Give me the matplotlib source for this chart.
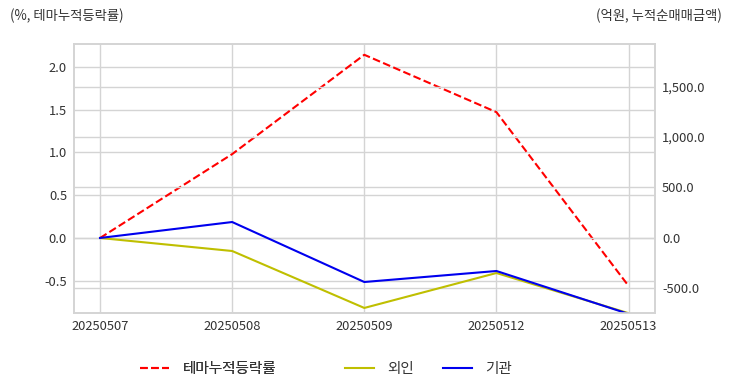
import matplotlib.pyplot as plt
from matplotlib.ticker import FuncFormatter

plt.rcParams['font.family'] = ['Noto Sans CJK KR', 'DejaVu Sans']
plt.rcParams['axes.unicode_minus'] = False

dates = ['20250507', '20250508', '20250509', '20250512', '20250513']
theme_rate = [0.0, 0.98, 2.14, 1.47, -0.56]
foreign = [0.0, -129.0, -693.0, -347.0, -745.0]
institution = [0.0, 158.0, -436.0, -327.0, -752.0]

grid_c = '#d4d4d4'
text_c = '#333333'

fig = plt.figure(figsize=(7.32, 3.92), dpi=100)
ax = fig.add_axes([74 / 732, 1 - 313 / 392, 581 / 732, 269 / 392])
ax2 = ax.twinx()

x = range(len(dates))
l1, = ax.plot(x, theme_rate, 'r--', lw=1.5, label='테마누적등락률')
l2, = ax2.plot(x, foreign, color='#bfbf00', lw=1.5, label='외인')
l3, = ax2.plot(x, institution, color='#0000ee', lw=1.5, label='기관')

ax.set_xlim(-0.197, 4.2)
ax.set_ylim(-0.876, 2.266)
ax2.set_ylim(-743, 1921)
ax.set_xticks(list(x))
ax.set_xticklabels(dates)
ax.set_yticks([-0.5, 0.0, 0.5, 1.0, 1.5, 2.0])
ax2.set_yticks([-500, 0, 500, 1000, 1500])
ax2.yaxis.set_major_formatter(FuncFormatter(lambda v, p: f'{v:,.1f}'))

for a in (ax, ax2):
    for s in a.spines.values():
        s.set_color(grid_c)
        s.set_linewidth(1.2)
    a.tick_params(length=0, labelsize=9.3, colors=text_c, pad=5)
ax.grid(True, color=grid_c, lw=1)
ax2.grid(True, axis='y', color=grid_c, lw=1)
ax.set_axisbelow(True)
ax2.set_axisbelow(True)

fig.text(10 / 732, 1 - 16 / 392, '(%, 테마누적등락률)', fontsize=9.6, color=text_c, va='center')
fig.text(722 / 732, 1 - 16 / 392, '(억원, 누적순매매금액)', fontsize=9.6, color=text_c, va='center', ha='right')

# 범례: 등락률 따로, 수급 두 줄 따로
leg_kw = dict(frameon=False, fontsize=10.5, handlelength=2.0, handletextpad=0.9,
              borderpad=0, borderaxespad=0, labelcolor=text_c, loc='center left')
leg1 = fig.legend(handles=[l1], bbox_to_anchor=(140 / 732, 1 - 369 / 392), **leg_kw)
fig.add_artist(leg1)
fig.legend(handles=[l2, l3], bbox_to_anchor=(345 / 732, 1 - 369 / 392), ncol=2,
           columnspacing=2.0, **leg_kw)

fig.savefig('out.png', dpi=100)
